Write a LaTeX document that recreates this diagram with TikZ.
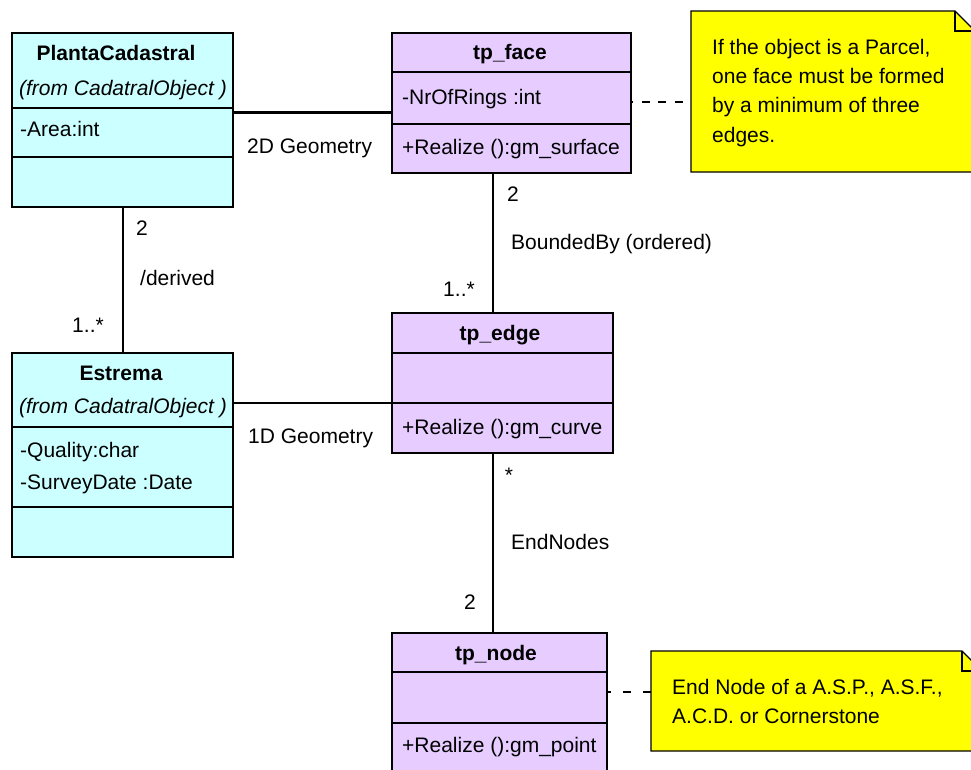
\documentclass[tikz,border=0pt]{standalone}
\usepackage{fontspec}
\setmainfont{Liberation Sans}
\definecolor{clscyan}{HTML}{CCFFFF}
\definecolor{clspurple}{HTML}{E6CCFF}
\definecolor{noteyellow}{HTML}{FFFF00}
\tikzset{
  cls/.style={draw, line width=1.6pt, anchor=north west, inner sep=0pt, outer sep=0pt},
  cyancls/.style={cls, fill=clscyan},
  purpcls/.style={cls, fill=clspurple},
  divider/.style={line width=1.8pt},
  txt/.style={font=\fontsize{21}{25}\selectfont, inner sep=0pt, text height=15.5pt, text depth=4.5pt},
  title/.style={txt, font=\fontsize{21}{25}\selectfont\bfseries},
  italic/.style={txt, font=\fontsize{21}{25}\selectfont\itshape},
  attr/.style={txt, anchor=west},
  lbl/.style={txt},
  assoc/.style={line width=1.3pt},
  assocthick/.style={line width=3pt},
  notebox/.style={fill=noteyellow, draw, line width=1.3pt, line join=miter},
  notelink/.style={line width=1.3pt},
}
\begin{document}
\begin{tikzpicture}[x=1pt, y=-1pt]
\useasboundingbox (0,0) rectangle (971,769);
\clip (0,0) rectangle (971,769);
\fill[white] (0,0) rectangle (971,769);

% ---- class boxes ----
\node[cyancls, minimum width=221pt, minimum height=174pt] (planta) at (12,33) {};
\node[cyancls, minimum width=221pt, minimum height=204pt] (estrema) at (12,353) {};
\node[purpcls, minimum width=239pt, minimum height=140pt] (face) at (392,33) {};
\node[purpcls, minimum width=221pt, minimum height=140pt] (edge) at (392,313) {};
\node[purpcls, minimum width=215pt, minimum height=160pt] (tpnode) at (392,633) {};

% dividers
\draw[divider] (planta.west |- 0,108) -- (planta.east |- 0,108);
\draw[divider] (planta.west |- 0,157) -- (planta.east |- 0,157);
\draw[divider] (estrema.west |- 0,427) -- (estrema.east |- 0,427);
\draw[divider] (estrema.west |- 0,507) -- (estrema.east |- 0,507);
\draw[divider] (face.west |- 0,72) -- (face.east |- 0,72);
\draw[divider] (face.west |- 0,124) -- (face.east |- 0,124);
\draw[divider] (edge.west |- 0,353) -- (edge.east |- 0,353);
\draw[divider] (edge.west |- 0,403) -- (edge.east |- 0,403);
\draw[divider] (tpnode.west |- 0,672) -- (tpnode.east |- 0,672);
\draw[divider] (tpnode.west |- 0,723) -- (tpnode.east |- 0,723);

% class texts
\node[title] (plantaT) at (116,55) {PlantaCadastral};
\node[italic] (plantaF) at (123,90) {(from CadatralObject )};
\node[attr] (plantaA) at (20,131) {-Area:int};

\node[title] (estremaT) at (121,375) {Estrema};
\node[italic] (estremaF) at (123,408) {(from CadatralObject )};
\node[attr] (estremaA1) at (20,452) {-Quality:char};
\node[attr] (estremaA2) at (20,484) {-SurveyDate :Date};

\node[title] (faceT) at (510,54) {tp\_face};
\node[attr] (faceA) at (402,99) {-NrOfRings :int};
\node[attr] (faceO) at (402,149) {+Realize ():gm\_surface};

\node[title] (edgeT) at (500,335) {tp\_edge};
\node[attr] (edgeO) at (402,429) {+Realize ():gm\_curve};

\node[title] (nodeT) at (496,655) {tp\_node};
\node[attr] (nodeO) at (402,747) {+Realize ():gm\_point};

% ---- notes ----
\draw[notebox] (691,11) -- (955,11) -- (975,31) -- (975,172) -- (691,172) -- cycle;
\draw[line width=1.3pt] (955,11) -- (955,31) -- (975,31);
\coordinate (note1w) at (691,102);
\node[attr] (n1a) at (712,49) {If the object is a Parcel,};
\node[attr] (n1b) at (712,78) {one face must be formed};
\node[attr] (n1c) at (712,107) {by a minimum of three};
\node[attr] (n1d) at (712,137) {edges.};

\draw[notebox] (651,651) -- (962,651) -- (982,671) -- (982,751) -- (651,751) -- cycle;
\draw[line width=1.3pt] (962,651) -- (962,671) -- (982,671);
\coordinate (note2w) at (651,692);
\node[attr] (n2a) at (672,689) {End Node of a A.S.P., A.S.F.,};
\node[attr] (n2b) at (672,718) {A.C.D. or Cornerstone};

% ---- connectors ----
\draw[assocthick] (planta.east |- 0,112) -- (face.west |- 0,112);
\node[attr] (l2d) at (247,148) {2D Geometry};

\draw[assoc] (planta.south -| 123,0) -- (estrema.north -| 123,0);
\node[lbl] (l2a) at (142,230) {2};
\node[attr] (lder) at (140,280) {/derived};
\node[lbl] (l1a) at (88,327) {1..*};

\draw[assoc] (face.south -| 493,0) -- (edge.north -| 493,0);
\node[lbl] (l2b) at (513,196) {2};
\node[attr] (lbnd) at (511,244) {BoundedBy (ordered)};
\node[lbl] (l1b) at (459,291) {1..*};

\draw[assoc] (estrema.east |- 0,403) -- (edge.west |- 0,403);
\node[attr] (l1d) at (248,438) {1D Geometry};

\draw[assoc] (edge.south -| 493,0) -- (tpnode.north -| 493,0);
\node[lbl] (lst) at (509,477) {*};
\node[attr] (lend) at (511,544) {EndNodes};
\node[lbl] (l2c) at (470,604) {2};

\draw[notelink, dash pattern=on 8pt off 8.5pt, dash phase=8pt] (note1w) -- (face.east |- note1w);
\draw[notelink, dash pattern=on 8.5pt off 11.5pt] (note2w) -- (tpnode.east |- note2w);
\end{tikzpicture}
\end{document}
